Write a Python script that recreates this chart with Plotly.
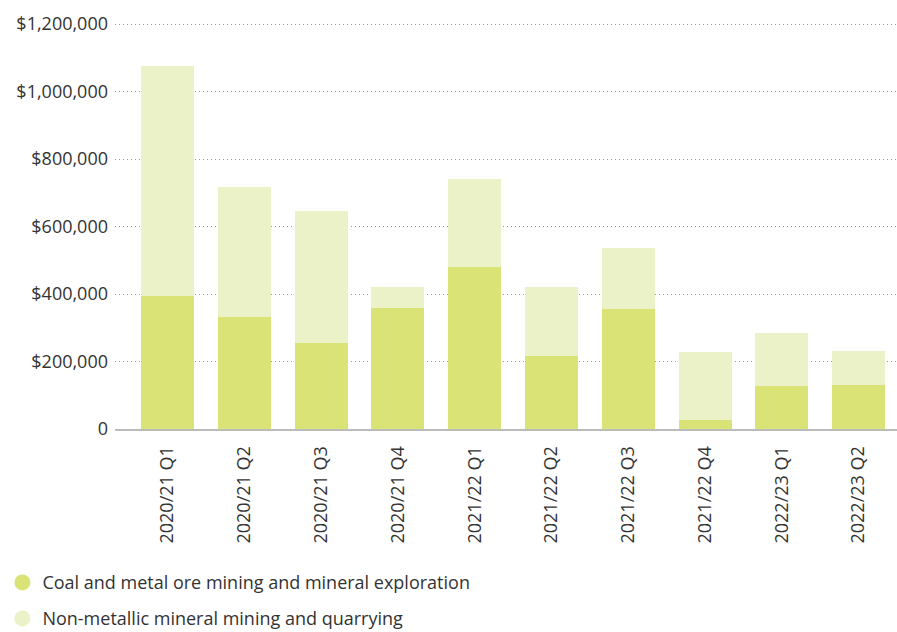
import plotly.graph_objects as go

quarters = ["2020/21 Q1", "2020/21 Q2", "2020/21 Q3", "2020/21 Q4",
            "2021/22 Q1", "2021/22 Q2", "2021/22 Q3", "2021/22 Q4",
            "2022/23 Q1", "2022/23 Q2"]
coal_metal = [394000, 332000, 255000, 359000, 480000,
              217000, 356000, 27500, 128000, 131000]
non_metallic = [681000, 384500, 390500, 62000, 260000,
                204000, 180000, 201000, 157000, 100500]

tick_vals = [0, 200000, 400000, 600000, 800000, 1000000, 1200000]
tick_text = ["0", "$200,000", "$400,000", "$600,000", "$800,000",
             "$1,000,000", "$1,200,000"]

series_names = ["Coal and metal ore mining and mineral exploration",
                "Non-metallic mineral mining and quarrying"]
colors = ["#DAE375", "#EBF2C7"]
text_color = "#333333"
font_family = "'Open Sans', 'Noto Sans', sans-serif"

fig = go.Figure()
fig.add_trace(go.Bar(x=quarters, y=coal_metal, name=series_names[0],
                     marker=dict(color=colors[0], line=dict(width=0)),
                     showlegend=False))
fig.add_trace(go.Bar(x=quarters, y=non_metallic, name=series_names[1],
                     marker=dict(color=colors[1], line=dict(width=0)),
                     showlegend=False))

# Circular legend markers, one legend per series
for i, (nm, col) in enumerate(zip(series_names, colors)):
    fig.add_trace(go.Scatter(x=[None], y=[None], mode="markers", name=nm,
                             marker=dict(symbol="circle", size=17, color=col),
                             legend="legend" if i == 0 else "legend2"))

legend_common = dict(font=dict(size=18, color=text_color, family=font_family),
                     bgcolor="rgba(0,0,0,0)", itemwidth=30,
                     xanchor="left", yanchor="middle")

plot_h = 632 - 23 - 203

fig.update_layout(
    width=897, height=632,
    margin=dict(l=115, r=0, t=23, b=203, autoexpand=False),
    paper_bgcolor="white", plot_bgcolor="white",
    barmode="stack", bargap=0.31,
    font=dict(family=font_family, color=text_color, size=18),
    xaxis=dict(range=[-0.684, 9.5], tickangle=-90, showgrid=False,
               showline=True, linecolor="#BBBBBB", linewidth=2,
               ticks="", tickfont=dict(size=18, color=text_color),
               ticklabelstandoff=8, automargin=False),
    yaxis=dict(range=[0, 1203000], tickvals=tick_vals, ticktext=tick_text,
               showgrid=True, gridcolor="#999999", griddash="1px,3px", gridwidth=1,
               zeroline=False, showline=False, ticks="",
               tickfont=dict(size=18, color=text_color), ticklabelstandoff=6,
               automargin=False),
    legend=dict(x=-0.144, y=(428.3 - 582) / plot_h, **legend_common),
    legend2=dict(x=-0.144, y=(428.3 - 618) / plot_h, **legend_common),
)

fig.write_html("out.html")
